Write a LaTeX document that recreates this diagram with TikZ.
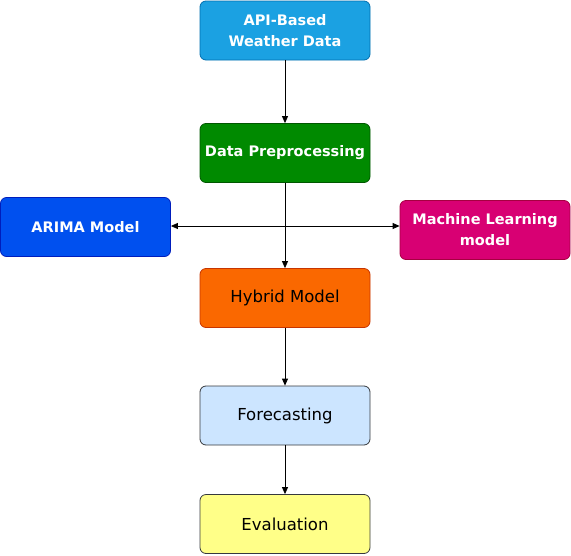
\documentclass[tikz,border=0pt]{standalone}
\usepackage{fontspec}
\setmainfont{DejaVu Sans}
\usetikzlibrary{arrows.meta}
\definecolor{apifill}{HTML}{1BA1E2}\definecolor{apidraw}{HTML}{006EAF}
\definecolor{prefill}{HTML}{008A00}\definecolor{predraw}{HTML}{005700}
\definecolor{arfill}{HTML}{0050EF}\definecolor{ardraw}{HTML}{001DBC}
\definecolor{mlfill}{HTML}{D80073}\definecolor{mldraw}{HTML}{A50040}
\definecolor{hyfill}{HTML}{FA6800}\definecolor{hydraw}{HTML}{C73500}
\definecolor{fcfill}{HTML}{CCE5FF}\definecolor{evfill}{HTML}{FFFF88}
\definecolor{grdraw}{HTML}{36393D}
\begin{document}
\begin{tikzpicture}[x=1pt,y=-1pt,
  box/.style={rounded corners=6pt, line width=0.8pt, minimum width=170pt, minimum height=59pt, inner sep=0pt, align=center, font=\fontsize{16.5}{21}\selectfont},
  wbox/.style={box, text=white, font=\fontsize{14.5}{21}\selectfont\bfseries},
  conn/.style={-{Triangle[length=7pt,width=6pt]}, line width=0.8pt}]
\useasboundingbox (0,0) rectangle (571,555);
\node[wbox, fill=apifill, draw=apidraw] (api) at (285,30.5) {API-Based\\Weather Data};
\node[wbox, fill=prefill, draw=predraw] (pre) at (285,153) {Data Preprocessing};
\node[wbox, fill=arfill, draw=ardraw, minimum width=170pt] (ar) at (85.5,227) {ARIMA Model};
\node[wbox, fill=mlfill, draw=mldraw, minimum width=170pt] (ml) at (485,230) {Machine Learning\\model};
\node[box, fill=hyfill, draw=hydraw] (hy) at (285,298) {Hybrid Model};
\node[box, fill=fcfill, draw=grdraw] (fc) at (285,415.5) {Forecasting};
\node[box, fill=evfill, draw=grdraw] (ev) at (285,524) {Evaluation};
\draw[conn] (api) -- (pre);
\draw[conn] (pre) -- (hy);
\coordinate (al) at (ar.east |- 0,226);
\coordinate (mr) at (ml.west |- 0,226);
\draw[conn, {Triangle[length=7pt,width=6pt]}-{Triangle[length=7pt,width=6pt]}] (al) -- (mr);
\draw[conn] (hy) -- (fc);
\draw[conn] (fc) -- (ev);
\end{tikzpicture}
\end{document}
